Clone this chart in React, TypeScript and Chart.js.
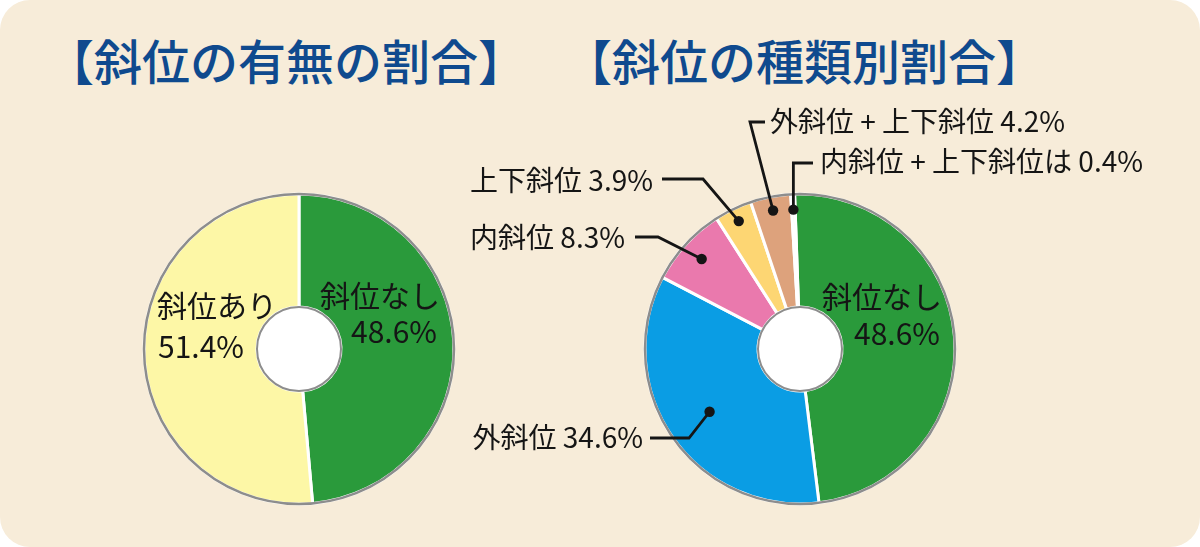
import React, { useEffect, useRef } from 'react';
import { Chart, registerables } from 'chart.js';

Chart.register(...registerables);

// ---------- data ----------
const titles = ['【斜位の有無の割合】', '【斜位の種類別割合】'];

const leftCategories = ['斜位なし', '斜位あり'];
const leftValues = [48.6, 51.4];

const rightCategories = ['斜位なし', '外斜位', '内斜位', '上下斜位', '外斜位 + 上下斜位', '内斜位 + 上下斜位は'];
const rightValues = [48.6, 34.6, 8.3, 3.9, 4.2, 0.4];

// ---------- styles ----------
const leftColors = ['#2a9a3b', '#fdf7a6'];
const rightColors = ['#2a9a3b', '#0a9de4', '#ea79ad', '#fdd673', '#dda27c', '#f7f0e3'];

const FONT = '"Noto Sans CJK JP", "Noto Sans", sans-serif';
const TEXT_COLOR = '#151515';

const fmt = (v: number) => v.toFixed(1) + '%';

type Inside = { index: number; nameDx: number; nameDy: number; valueDx: number; valueDy: number };
type Callout = {
  index: number;
  rFrac: number;
  elbowDx: number | null;
  elbowDy: number;
  endDx: number;
  textDx: number;
  textDy: number;
  align: 'left' | 'right';
};

// label layout, offsets relative to each chart's centre
const leftInside: Inside[] = [
  { index: 0, nameDx: 81, nameDy: -53, valueDx: 95, valueDy: -17 },
  { index: 1, nameDx: -82, nameDy: -43, valueDx: -98, valueDy: -2 },
];
const rightInside: Inside[] = [{ index: 0, nameDx: 82, nameDy: -52, valueDx: 97, valueDy: -15 }];
const rightCallouts: Callout[] = [
  { index: 1, rFrac: 0.71, elbowDx: -111, elbowDy: 89, endDx: -150, textDx: -157, textDy: 88, align: 'right' },
  { index: 2, rFrac: 0.86, elbowDx: -142, elbowDy: -112, endDx: -165, textDx: -175, textDy: -112, align: 'right' },
  { index: 3, rFrac: 0.915, elbowDx: -97, elbowDy: -170, endDx: -138, textDx: -147, textDy: -169, align: 'right' },
  { index: 4, rFrac: 0.91, elbowDx: -50, elbowDy: -227, endDx: -35, textDx: -30, textDy: -228, align: 'left' },
  { index: 5, rFrac: 0.9, elbowDx: null, elbowDy: -186, endDx: 13, textDx: 20, textDy: -188, align: 'left' },
];

const ringPlugin = {
  id: 'ring',
  afterDatasetsDraw(chart: any) {
    const arc: any = chart.getDatasetMeta(0).data[0];
    if (!arc) return;
    const { x, y, outerRadius, innerRadius } = arc;
    const ctx = chart.ctx;
    ctx.save();
    ctx.beginPath();
    ctx.arc(x, y, outerRadius, 0, Math.PI * 2);
    ctx.lineWidth = 2.5;
    ctx.strokeStyle = '#8d8d8d';
    ctx.stroke();
    ctx.beginPath();
    ctx.arc(x, y, innerRadius, 0, Math.PI * 2);
    ctx.fillStyle = '#ffffff';
    ctx.fill();
    ctx.lineWidth = 2;
    ctx.stroke();
    ctx.restore();
  },
};

function makeLabelPlugin(categories: string[], values: number[], inside: Inside[], callouts: Callout[]) {
  return {
    id: 'labels',
    afterDraw(chart: any) {
      const meta = chart.getDatasetMeta(0);
      const first: any = meta.data[0];
      if (!first) return;
      const cx = first.x;
      const cy = first.y;
      const ctx = chart.ctx;
      ctx.save();
      ctx.fillStyle = TEXT_COLOR;
      ctx.strokeStyle = TEXT_COLOR;
      ctx.textBaseline = 'middle';
      ctx.textAlign = 'center';
      ctx.font = `30px ${FONT}`;
      inside.forEach((it) => {
        ctx.fillText(categories[it.index], cx + it.nameDx, cy + it.nameDy);
        ctx.fillText(fmt(values[it.index]), cx + it.valueDx, cy + it.valueDy);
      });
      ctx.font = `28px ${FONT}`;
      ctx.lineWidth = 2.8;
      callouts.forEach((c) => {
        const arc: any = meta.data[c.index];
        const mid = (arc.startAngle + arc.endAngle) / 2;
        const r = arc.outerRadius * c.rFrac;
        const dx = cx + Math.cos(mid) * r;
        const dy = cy + Math.sin(mid) * r;
        const ex = c.elbowDx === null ? dx : cx + c.elbowDx;
        const ey = cy + c.elbowDy;
        ctx.beginPath();
        ctx.moveTo(dx, dy);
        ctx.lineTo(ex, ey);
        ctx.lineTo(cx + c.endDx, ey);
        ctx.stroke();
        ctx.beginPath();
        ctx.arc(dx, dy, 5.2, 0, Math.PI * 2);
        ctx.fill();
        ctx.textAlign = c.align;
        ctx.fillText(`${categories[c.index]} ${fmt(values[c.index])}`, cx + c.textDx, cy + c.textDy);
      });
      ctx.restore();
    },
  };
}

function makeChart(
  canvas: HTMLCanvasElement,
  categories: string[],
  values: number[],
  colors: string[],
  padding: { left: number; right: number; top: number; bottom: number },
  rotation: number,
  inside: Inside[],
  callouts: Callout[]
) {
  return new Chart(canvas, {
    type: 'doughnut',
    data: {
      labels: categories,
      datasets: [
        {
          data: values,
          backgroundColor: colors,
          borderColor: '#ffffff',
          borderWidth: 3,
          hoverBorderWidth: 3,
          hoverOffset: 0,
        },
      ],
    },
    options: {
      responsive: false,
      animation: false,
      devicePixelRatio: 1,
      cutout: 42,
      rotation,
      layout: { padding },
      plugins: {
        legend: { display: false },
        tooltip: { enabled: false },
      },
      events: [],
    } as any,
    plugins: [ringPlugin, makeLabelPlugin(categories, values, inside, callouts)],
  });
}

export default function App() {
  const leftRef = useRef<HTMLCanvasElement>(null);
  const rightRef = useRef<HTMLCanvasElement>(null);

  useEffect(() => {
    const charts: Chart[] = [];
    if (leftRef.current) {
      charts.push(
        makeChart(
          leftRef.current,
          leftCategories,
          leftValues,
          leftColors,
          { left: 142.5, right: 144.5, top: 192.5, bottom: 41.5 },
          0,
          leftInside,
          []
        )
      );
    }
    if (rightRef.current) {
      charts.push(
        makeChart(
          rightRef.current,
          rightCategories,
          rightValues,
          rightColors,
          { left: 223.5, right: 243.5, top: 192.5, bottom: 41.5 },
          -2,
          rightInside,
          rightCallouts
        )
      );
    }
    return () => charts.forEach((c) => c.destroy());
  }, []);

  const titleStyle: React.CSSProperties = {
    position: 'absolute',
    top: 35,
    fontFamily: FONT,
    fontSize: 48,
    lineHeight: '48px',
    fontWeight: 500,
    color: '#0f4a8e',
    whiteSpace: 'nowrap',
    margin: 0,
  };

  return (
    <>
      <style>{`html,body{margin:0;padding:0;background:#ffffff;}`}</style>
      <div
        style={{
          position: 'relative',
          width: 1200,
          height: 547,
          background: '#f7ecd9',
          borderRadius: 30,
          overflow: 'hidden',
        }}
      >
        <div style={{ ...titleStyle, left: 46 }}>{titles[0]}</div>
        <div style={{ ...titleStyle, left: 564 }}>{titles[1]}</div>
        <canvas
          ref={leftRef}
          width={600}
          height={547}
          style={{ position: 'absolute', left: 0, top: 0, width: 600, height: 547 }}
        />
        <canvas
          ref={rightRef}
          width={780}
          height={547}
          style={{ position: 'absolute', left: 420, top: 0, width: 780, height: 547 }}
        />
      </div>
    </>
  );
}
